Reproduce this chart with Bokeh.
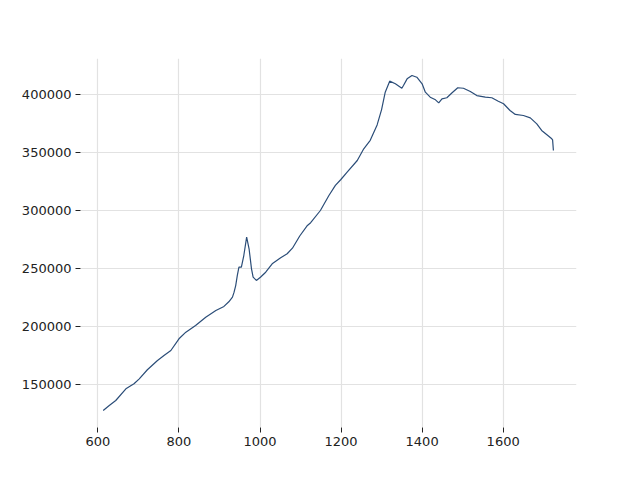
from bokeh.plotting import figure
from bokeh.models import FixedTicker, BasicTickFormatter, Range1d
from bokeh.embed import file_html
from bokeh.resources import INLINE

wavenumber = [613, 628, 644, 669, 689, 702, 722, 747, 763, 780, 800, 817, 841, 866, 891,
              911, 923, 932, 936, 940, 944, 948, 954, 960, 967, 973, 979, 983, 991, 1001,
              1014, 1030, 1051, 1067, 1080, 1098, 1117, 1125, 1149, 1170, 1186, 1199, 1215,
              1240, 1256, 1272, 1289, 1300, 1309, 1320, 1334, 1350, 1354, 1363, 1375, 1387,
              1400, 1408, 1420, 1433, 1441, 1449, 1461, 1474, 1488, 1502, 1519, 1535, 1556,
              1572, 1588, 1601, 1617, 1630, 1650, 1667, 1683, 1695, 1708, 1720, 1722, 1724]
intensity = [127600, 131900, 136200, 146300, 150600, 154900, 162700, 170700, 175000, 179300,
             189400, 195100, 200900, 208000, 213800, 217300, 221300, 225300, 229600, 235300,
             244000, 251100, 251100, 261200, 277000, 267000, 249700, 242500, 239700, 242500,
             246800, 254000, 259200, 262700, 267500, 278000, 287100, 289500, 300000, 312900,
             321600, 326500, 333000, 343100, 353200, 360500, 373800, 387000, 402000, 411500,
             409200, 405400, 407800, 413500, 416400, 414900, 409200, 402000, 397700, 395400,
             392800, 396300, 397200, 401500, 405800, 405400, 402600, 399100, 397700, 397200,
             394200, 392000, 386200, 382800, 381900, 379900, 374700, 369000, 365300, 361800,
             360900, 351700]
x_ticks = [600, 800, 1000, 1200, 1400, 1600]
y_ticks = [150000, 200000, 250000, 300000, 350000, 400000]

p = figure(frame_width=496, frame_height=369, output_backend="svg", toolbar_location=None,
           min_border_left=80, min_border_right=48, min_border_top=58, min_border_bottom=37,
           x_range=Range1d(557, 1781), y_range=Range1d(112931, 431034))

p.line(wavenumber, intensity, line_color="#2b4d78", line_width=1.2)

p.outline_line_color = None
p.background_fill_color = "white"
p.border_fill_color = "white"

for ax in (p.xaxis[0], p.yaxis[0]):
    ax.axis_line_color = None
    ax.major_tick_line_color = "#222222"
    ax.major_tick_out = 5
    ax.major_tick_in = 0
    ax.minor_tick_line_color = None
    ax.major_label_text_font = "DejaVu Sans"
    ax.major_label_text_font_size = "13px"
    ax.major_label_text_color = "#222222"
    ax.major_label_standoff = 4

p.xaxis.ticker = FixedTicker(ticks=x_ticks)
p.yaxis.ticker = FixedTicker(ticks=y_ticks)
p.yaxis.formatter = BasicTickFormatter(use_scientific=False)
p.xaxis.formatter = BasicTickFormatter(use_scientific=False)

p.xgrid.ticker = FixedTicker(ticks=x_ticks)
p.ygrid.ticker = FixedTicker(ticks=y_ticks)
p.grid.grid_line_color = "#e2e2e2"
p.grid.grid_line_width = 1.2

open("out.html", "w").write(file_html(p, INLINE))
